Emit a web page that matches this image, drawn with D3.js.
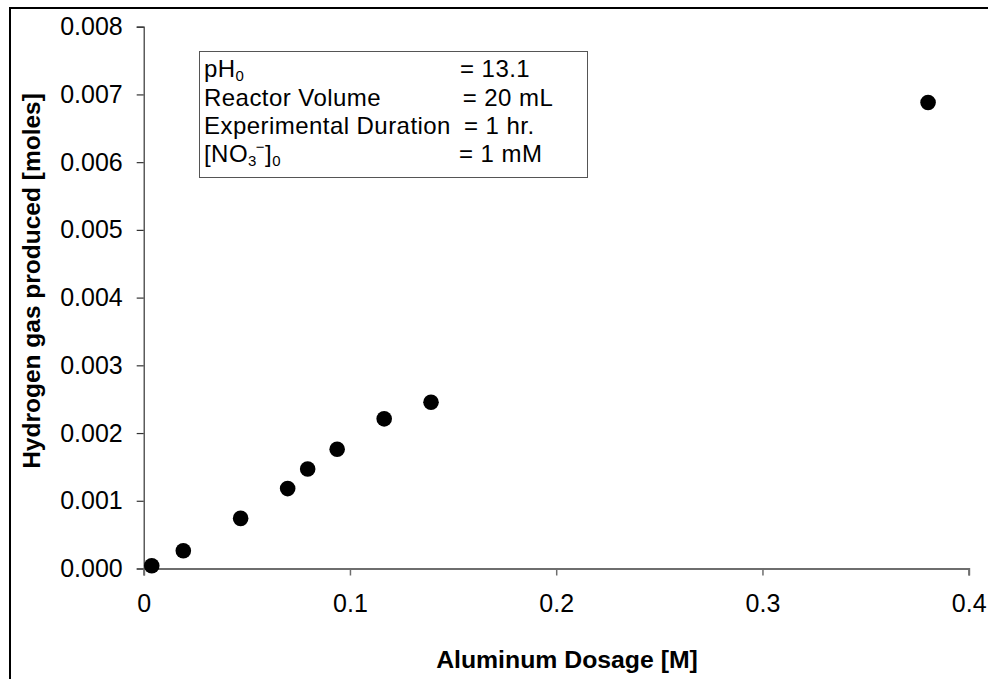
<!DOCTYPE html>
<html>
<head>
<meta charset="utf-8">
<script src="https://cdn.jsdelivr.net/npm/d3@7"></script>
<style>
  html, body { margin: 0; padding: 0; background: #fff; }
  svg { display: block; }
  text { font-family: "Liberation Sans", Arial, sans-serif; fill: #000; }
</style>
</head>
<body>
<svg id="chart" width="988" height="679"></svg>
<script>
// Aluminum dosage (M) and hydrogen gas produced (moles)
const dosage   = [0.0039, 0.0192, 0.047, 0.0698, 0.0795, 0.0938, 0.1166, 0.1393, 0.3803];
const hydrogen = [0.00004, 0.000263, 0.00074, 0.00118, 0.00147, 0.00176, 0.00221, 0.002455, 0.00688];

const xTicks = [0, 0.1, 0.2, 0.3, 0.4];
const yTicks = [0, 0.001, 0.002, 0.003, 0.004, 0.005, 0.006, 0.007, 0.008];

const xTitle = "Aluminum Dosage [M]";
const yTitle = "Hydrogen gas produced [moles]";

// Experimental conditions box
const condLabels = ["pH", "Reactor Volume", "Experimental Duration", "[NO"];
const condValues = ["= 13.1", "= 20 mL", "= 1 hr.", "= 1 mM"];

const svg = d3.select("#chart");

// outer frame (only top and left edges fall inside the canvas)
svg.append("rect")
  .attr("x", 10).attr("y", 8).attr("width", 1000).attr("height", 700)
  .attr("fill", "none").attr("stroke", "#000").attr("stroke-width", 2);

const plot = { left: 143.7, right: 968.7, top: 26.7, bottom: 568.5 };

const x = d3.scaleLinear().domain([0, 0.4]).range([plot.left, plot.right]);
const y = d3.scaleLinear().domain([0, 0.008]).range([plot.bottom, plot.top]);

const tickFont = 25;

// y axis
const yAxis = svg.append("g")
  .attr("transform", `translate(${plot.left},0)`)
  .call(d3.axisLeft(y).tickValues(yTicks).tickFormat(d3.format(".3f")).tickSizeOuter(0).tickSize(7).tickPadding(14));
yAxis.select(".domain").attr("stroke", "#333").attr("stroke-width", 1.2);
yAxis.selectAll(".tick line").attr("stroke", "#333").attr("stroke-width", 1.2);
yAxis.selectAll(".tick text")
  .attr("font-size", tickFont).attr("fill", "#000")
  .attr("font-family", "'Liberation Sans', Arial, sans-serif");

// x axis
const xAxis = svg.append("g")
  .attr("transform", `translate(0,${plot.bottom})`)
  .call(d3.axisBottom(x).tickValues(xTicks).tickFormat(d => d === 0 ? "0" : d3.format(".1f")(d)).tickSizeOuter(0).tickSize(7).tickPadding(19));
xAxis.select(".domain").attr("stroke", "#6e6e6e").attr("stroke-width", 2);
xAxis.selectAll(".tick line").attr("stroke", "#6e6e6e").attr("stroke-width", 1.5);
xAxis.selectAll(".tick text")
  .attr("font-size", tickFont).attr("fill", "#000")
  .attr("font-family", "'Liberation Sans', Arial, sans-serif");

// axis titles
svg.append("text")
  .attr("x", 567).attr("y", 668)
  .attr("text-anchor", "middle")
  .attr("font-size", 24.8).attr("font-weight", "bold")
  .text(xTitle);

svg.append("text")
  .attr("transform", "translate(40,281) rotate(-90)")
  .attr("text-anchor", "middle")
  .attr("font-size", 24.5).attr("font-weight", "bold")
  .text(yTitle);

// data points
svg.append("g").selectAll("circle")
  .data(dosage.map((d, i) => [d, hydrogen[i]]))
  .join("circle")
  .attr("cx", d => x(d[0]))
  .attr("cy", d => y(d[1]))
  .attr("r", 7.8)
  .attr("fill", "#000");

// conditions box
svg.append("rect")
  .attr("x", 199.5).attr("y", 51.5).attr("width", 388).attr("height", 126)
  .attr("fill", "#fff").attr("stroke", "#555").attr("stroke-width", 1);

const baselines = [77, 105.5, 134, 161.5];
const lbl = svg.append("g").attr("font-size", 24).attr("letter-spacing", 0.45);

// pH with subscript 0
const t0 = lbl.append("text").attr("x", 204).attr("y", baselines[0]);
t0.append("tspan").text(condLabels[0]);
t0.append("tspan").attr("font-size", 15).attr("dy", 4).text("0");

lbl.append("text").attr("x", 204).attr("y", baselines[1]).text(condLabels[1]);
lbl.append("text").attr("x", 204).attr("y", baselines[2]).text(condLabels[2]);

// [NO3−]0
const t3 = lbl.append("text").attr("x", 204).attr("y", baselines[3]);
t3.append("tspan").text(condLabels[3]);
t3.append("tspan").attr("font-size", 15).attr("dy", 4).text("3");
t3.append("tspan").attr("font-size", 15).attr("dy", -14).attr("dx", -1).text("\u2212");
t3.append("tspan").attr("dy", 10).text("]");
t3.append("tspan").attr("font-size", 15).attr("dy", 4).text("0");

const valX = [460, 462.7, 464, 459];
condValues.forEach((v, i) => {
  lbl.append("text").attr("x", valX[i]).attr("y", baselines[i]).text(v);
});
</script>
</body>
</html>
